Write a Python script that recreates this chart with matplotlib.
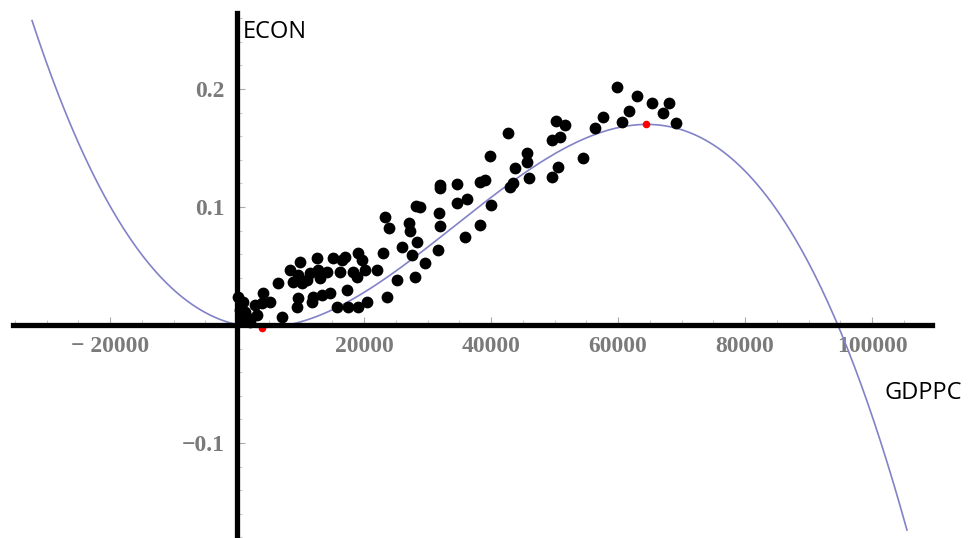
import numpy as np
import matplotlib
matplotlib.use('Agg')
import matplotlib.pyplot as plt
from matplotlib.ticker import MultipleLocator, FixedLocator


# GDP per capita and ECON values
gdppc = [945, 1260, 945, 470, 1730, 160, 2050, 2830,
         4100, 3940, 3150, 5200, 6460, 7090, 8350, 9610, 9920, 8820,
         10240, 9610, 9450, 11030, 11500, 11810, 11970, 12600, 12760, 13070,
         13390, 14180, 14650, 15120, 15750, 16220, 16540, 17010, 17330, 17480,
         18270, 18900, 19060, 19690, 19060, 20480, 20160, 22050, 22990, 23620,
         25200, 25990, 27560, 28030, 29610, 28350, 23310, 23940, 27090, 27250,
         28190, 31970, 31970, 31810, 31970, 31660, 34650, 34650, 36230, 35910,
         38270, 38270, 28820, 39060, 39850, 40000, 42680, 43000, 43470, 43780,
         45670, 45670, 45990, 49610, 49610, 50240, 50560, 50870, 51660, 54500,
         56380, 57640, 59850, 60640, 61740, 63000, 65360, 67090, 68040, 69140]
econ = [0.0195, 0.011, 0.006, 0.0127, 0.006, 0.0237, 0.0025, 0.017,
        0.027, 0.0186, 0.0085, 0.0195, 0.0356, 0.0068, 0.0466, 0.0424, 0.0534, 0.0364,
        0.0356, 0.0229, 0.0153, 0.0381, 0.044, 0.0195, 0.0237, 0.0568, 0.0466, 0.0398,
        0.0254, 0.0449, 0.0271, 0.0568, 0.0153, 0.0449, 0.0551, 0.0576, 0.0297, 0.0153,
        0.0449, 0.0407, 0.061, 0.0551, 0.0153, 0.0195, 0.0466, 0.0466, 0.061, 0.0237,
        0.0381, 0.0661, 0.0593, 0.0407, 0.0525, 0.0703, 0.0915, 0.0822, 0.0864, 0.0796,
        0.1008, 0.1186, 0.116, 0.0949, 0.0839, 0.0636, 0.1195, 0.1034, 0.1068, 0.0746,
        0.1212, 0.0848, 0.1, 0.1229, 0.1432, 0.1017, 0.1627, 0.1169, 0.1203, 0.133,
        0.1457, 0.1381, 0.1245, 0.1254, 0.1568, 0.1729, 0.1339, 0.1593, 0.1695, 0.1415,
        0.1669, 0.1763, 0.2017, 0.172, 0.1813, 0.194, 0.1881, 0.1796, 0.1881, 0.1712]

# cubic fit ECON = a*x^3 + b*x^2 + c*x + d
fit_coeffs = [-1.553e-15, 1.596e-10, -1.2023e-6, 0.0003]
fit_range = [-32300, 105500]

# turning points of the fit
turn_x = [3940, 64400]
turn_y = [-0.0025, 0.170]

xticks = [-20000, 20000, 40000, 60000, 80000, 100000]
yticks = [-0.1, 0.1, 0.2]


fig = plt.figure(figsize=(9.78, 5.38), dpi=100)
ax = fig.add_axes([0.0133, 0.0, 0.9397, 0.9758])

xs = np.linspace(fit_range[0], fit_range[1], 400)
ax.plot(xs, np.polyval(fit_coeffs, xs), color='#8282c8', lw=1.2, zorder=2)

ax.scatter(gdppc, econ, s=72, color='black', zorder=4, clip_on=False, linewidths=0)
ax.scatter(turn_x, turn_y, s=30, color='red', zorder=2, linewidths=0)

ax.set_xlim(-35300, 109450)
ax.set_ylim(-0.1805, 0.2644)

for side in ['top', 'right']:
    ax.spines[side].set_visible(False)
for side in ['left', 'bottom']:
    ax.spines[side].set_position('zero')
    ax.spines[side].set_linewidth(3.8)
    ax.spines[side].set_zorder(3)

ax.xaxis.set_major_locator(FixedLocator(xticks))
ax.xaxis.set_minor_locator(MultipleLocator(5000))
ax.yaxis.set_major_locator(FixedLocator(yticks))
ax.yaxis.set_minor_locator(MultipleLocator(0.02))
ax.set_xticklabels(['\u2212 20000', '20000', '40000', '60000', '80000', '100000'])
ax.set_yticklabels(['\u22120.1', '0.1', '0.2'])

ax.tick_params(which='major', direction='in', length=6, width=0.8, color='#aaaaaa',
               labelsize=17, labelcolor='#7a7a7a')
ax.tick_params(which='minor', direction='in', length=3.5, width=0.6, color='#bbbbbb')
ax.tick_params(axis='x', which='major', pad=8)
ax.tick_params(axis='y', which='major', pad=9)
for lab in ax.get_xticklabels() + ax.get_yticklabels():
    lab.set_family(['Liberation Serif', 'DejaVu Serif'])
    lab.set_fontweight('bold')

ax.text(950, 0.248, 'ECON', fontsize=17, family='Open Sans', va='center', ha='left')
ax.text(102000, -0.0576, 'GDPPC', fontsize=17, family='Open Sans', va='center', ha='left',
        clip_on=False)

fig.savefig('out.png', dpi=100)
